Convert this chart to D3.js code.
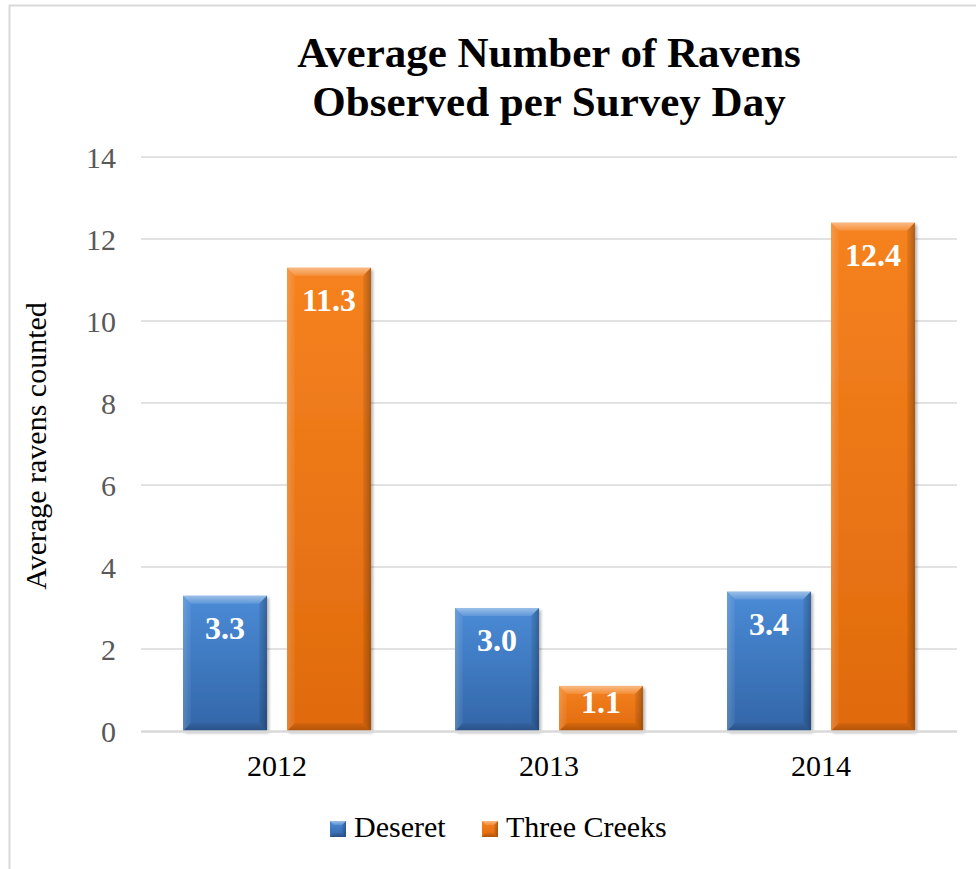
<!DOCTYPE html>
<html>
<head>
<meta charset="utf-8">
<script src="https://cdn.jsdelivr.net/npm/d3@7"></script>
<style>
  html, body { margin: 0; padding: 0; background: #ffffff; }
  svg { display: block; }
</style>
</head>
<body>
<svg id="chart" width="976" height="869"></svg>
<script>
// Survey results: average ravens counted per survey day
const years = ["2012", "2013", "2014"];
const seriesNames = ["Deseret", "Three Creeks"];
const deseret = [3.3, 3.0, 3.4];
const threeCreeks = [11.3, 1.1, 12.4];
const yTicks = [0, 2, 4, 6, 8, 10, 12, 14];
const titleLines = ["Average Number of Ravens", "Observed per Survey Day"];
const yAxisTitle = "Average ravens counted";

const SERIF = "'Liberation Serif', 'Times New Roman', serif";
const palette = {
  "Deseret": { top: "#4a8bd6", bottom: "#3366a8" },
  "Three Creeks": { top: "#f58220", bottom: "#e06a0c" }
};

const svg = d3.select("#chart");
const W = 976, H = 869;
const plot = { left: 141, right: 957, top: 157, bottom: 731 };

// outer chart frame
svg.append("rect")
  .attr("x", 9.5).attr("y", 5.5)
  .attr("width", W + 20).attr("height", H + 20)
  .attr("fill", "#ffffff")
  .attr("stroke", "#d9d9d9").attr("stroke-width", 2);

const x0 = d3.scaleBand().domain(years).range([plot.left, plot.right]).padding(0);
const x1 = d3.scaleBand().domain(seriesNames)
  .range([42, x0.bandwidth() - 42])
  .paddingInner(20 / 104).paddingOuter(0);
const y = d3.scaleLinear().domain([0, 14]).range([plot.bottom, plot.top]);

const defs = svg.append("defs");
seriesNames.forEach((s, i) => {
  const g = defs.append("linearGradient").attr("id", "body" + i)
    .attr("x1", 0).attr("y1", 0).attr("x2", 0).attr("y2", 1);
  g.append("stop").attr("offset", "0%").attr("stop-color", palette[s].top);
  g.append("stop").attr("offset", "100%").attr("stop-color", palette[s].bottom);
});
function edgeGrad(id, x2, y2, color, o1, o2) {
  const g = defs.append("linearGradient").attr("id", id)
    .attr("x1", 0).attr("y1", 0).attr("x2", x2).attr("y2", y2);
  g.append("stop").attr("offset", "0%").attr("stop-color", color).attr("stop-opacity", o1);
  g.append("stop").attr("offset", "100%").attr("stop-color", color).attr("stop-opacity", o2);
}
edgeGrad("bevTop", 0, 1, "#ffffff", 0.45, 0.12);
edgeGrad("bevLeft", 1, 0, "#ffffff", 0.18, 0.04);
edgeGrad("bevRight", 1, 0, "#000000", 0.06, 0.28);
edgeGrad("bevBottom", 0, 1, "#000000", 0.05, 0.22);

const shadow = defs.append("filter").attr("id", "shadow")
  .attr("x", "-20%").attr("y", "-20%").attr("width", "140%").attr("height", "140%");
shadow.append("feGaussianBlur").attr("in", "SourceAlpha").attr("stdDeviation", 1.6).attr("result", "b");
shadow.append("feOffset").attr("in", "b").attr("dx", 2).attr("dy", 2).attr("result", "o");
shadow.append("feComponentTransfer").attr("in", "o").attr("result", "s")
  .append("feFuncA").attr("type", "linear").attr("slope", 0.3);
const merge = shadow.append("feMerge");
merge.append("feMergeNode").attr("in", "s");
merge.append("feMergeNode").attr("in", "SourceGraphic");

// gridlines
svg.append("g").selectAll("line").data(yTicks.filter(t => t !== 0)).join("line")
  .attr("x1", plot.left).attr("x2", plot.right)
  .attr("y1", d => y(d)).attr("y2", d => y(d))
  .attr("stroke", "#d9d9d9").attr("stroke-width", 1.5);

// y tick labels
const yAxis = d3.axisLeft(y).tickValues(yTicks).tickSize(0).tickPadding(25);
const yg = svg.append("g").attr("transform", `translate(${plot.left},0)`).call(yAxis);
yg.select(".domain").remove();
yg.selectAll("text")
  .style("font-family", SERIF).style("font-size", "30px")
  .attr("fill", "#595959").attr("dy", "0.34em");

// x category labels
const xAxis = d3.axisBottom(x0).tickSize(0).tickPadding(24);
const xg = svg.append("g").attr("transform", `translate(0,${plot.bottom})`).call(xAxis);
xg.select(".domain").remove();
xg.selectAll("text")
  .style("font-family", SERIF).style("font-size", "30px")
  .attr("fill", "#000000").attr("dy", "0.71em");

// bars
const rows = years.map((yr, i) => ({ year: yr, values: [deseret[i], threeCreeks[i]] }));
const bev = 8;
const groups = svg.append("g").selectAll("g").data(rows).join("g")
  .attr("transform", d => `translate(${x0(d.year)},0)`);

groups.each(function (row) {
  const g = d3.select(this);
  row.values.forEach((v, si) => {
    const s = seriesNames[si];
    const bx = x1(s), bw = x1.bandwidth();
    const by = y(v), bh = y(0) - y(v);
    const b = Math.min(bev, bh / 2);
    const bar = g.append("g");
    bar.append("rect").attr("x", bx).attr("y", by).attr("width", bw).attr("height", bh)
      .attr("fill", `url(#body${si})`).attr("filter", "url(#shadow)");
    const L = bx, R = bx + bw, T = by, B = by + bh;
    const poly = pts => pts.map(p => p.join(",")).join(" ");
    bar.append("polygon").attr("points", poly([[L, T], [R, T], [R - b, T + b], [L + b, T + b]]))
      .attr("fill", "url(#bevTop)");
    bar.append("polygon").attr("points", poly([[L, T], [L + b, T + b], [L + b, B - b], [L, B]]))
      .attr("fill", "url(#bevLeft)");
    bar.append("polygon").attr("points", poly([[R, T], [R, B], [R - b, B - b], [R - b, T + b]]))
      .attr("fill", "url(#bevRight)");
    bar.append("polygon").attr("points", poly([[L, B], [L + b, B - b], [R - b, B - b], [R, B]]))
      .attr("fill", "url(#bevBottom)");
    // value label inside the top of the bar
    const baseline = Math.min(by + 43, y(0) - 18);
    bar.append("text").attr("x", bx + bw / 2).attr("y", baseline)
      .style("font-family", SERIF).style("font-size", "32px").style("font-weight", "bold")
      .attr("text-anchor", "middle").attr("fill", "#ffffff")
      .text(v.toFixed(1));
  });
});

// baseline axis
svg.append("line").attr("x1", plot.left).attr("x2", plot.right)
  .attr("y1", y(0) + 0.5).attr("y2", y(0) + 0.5)
  .attr("stroke", "#d9d9d9").attr("stroke-width", 2.5);

// title
const cx = (plot.left + plot.right) / 2;
svg.append("text").attr("x", cx).attr("y", 67).attr("text-anchor", "middle")
  .style("font-family", SERIF).style("font-size", "43px").style("font-weight", "bold")
  .attr("fill", "#000")
  .selectAll("tspan").data(titleLines).join("tspan")
  .attr("x", cx).attr("dy", (d, i) => i === 0 ? 0 : 49).text(d => d);

// y axis title
svg.append("text")
  .attr("transform", `translate(46,${(plot.top + plot.bottom) / 2 + 2}) rotate(-90)`)
  .style("font-family", SERIF).style("font-size", "30px")
  .attr("text-anchor", "middle").attr("fill", "#000")
  .text(yAxisTitle);

// legend
const legend = svg.append("g").attr("transform", "translate(330,837)");
const legendItems = [{ name: seriesNames[0], x: 0 }, { name: seriesNames[1], x: 152 }];
legendItems.forEach((it, i) => {
  const s = it.name;
  const lg = legend.append("g").attr("transform", `translate(${it.x},0)`);
  const sz = 16;
  lg.append("rect").attr("x", 0).attr("y", -sz).attr("width", sz).attr("height", sz)
    .attr("fill", `url(#body${i})`);
  const b = 4, poly = pts => pts.map(p => p.join(",")).join(" ");
  lg.append("polygon").attr("points", poly([[0, -sz], [sz, -sz], [sz - b, -sz + b], [b, -sz + b]])).attr("fill", "url(#bevTop)");
  lg.append("polygon").attr("points", poly([[sz, -sz], [sz, 0], [sz - b, -b], [sz - b, -sz + b]])).attr("fill", "url(#bevRight)");
  lg.append("polygon").attr("points", poly([[0, 0], [b, -b], [sz - b, -b], [sz, 0]])).attr("fill", "url(#bevBottom)");
  lg.append("text").attr("x", sz + 8).attr("y", 0)
    .style("font-family", SERIF).style("font-size", "30px")
    .attr("fill", "#000").text(s);
});
</script>
</body>
</html>
